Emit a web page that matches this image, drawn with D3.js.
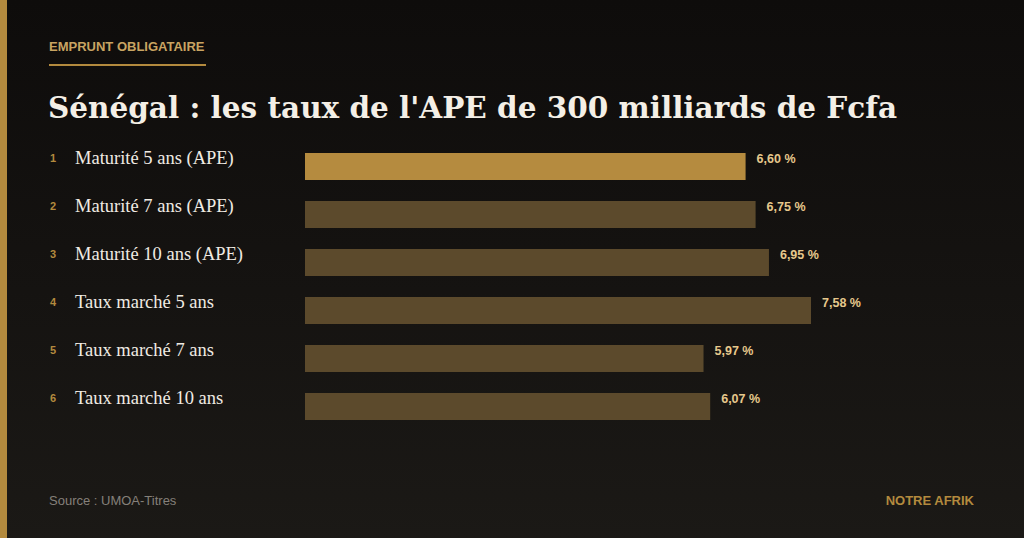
<!DOCTYPE html>
<html>
<head>
<meta charset="utf-8">
<script src="https://cdn.jsdelivr.net/npm/d3@7"></script>
<style>
  html, body { margin: 0; padding: 0; background: #121110; }
  svg { display: block; }
</style>
</head>
<body>
<div id="chart"></div>
<script>
// data
var categories = ["Maturité 5 ans (APE)", "Maturité 7 ans (APE)", "Maturité 10 ans (APE)",
                  "Taux marché 5 ans", "Taux marché 7 ans", "Taux marché 10 ans"];
var ranks = ["1", "2", "3", "4", "5", "6"];
var rates = [6.60, 6.75, 6.95, 7.58, 5.97, 6.07];
var rateLabels = ["6,60 %", "6,75 %", "6,95 %", "7,58 %", "5,97 %", "6,07 %"];

var svgWidth = 1024;
var svgHeight = 538;

var svg = d3.select("#chart")
  .append("svg")
    .attr("width", svgWidth)
    .attr("height", svgHeight);

// background gradient
var defs = svg.append("defs");
var grad = defs.append("linearGradient")
  .attr("id", "bg").attr("x1", 0).attr("y1", 0).attr("x2", 0).attr("y2", 1);
grad.append("stop").attr("offset", "0%").attr("stop-color", "#0e0c0b");
grad.append("stop").attr("offset", "100%").attr("stop-color", "#1b1916");

svg.append("rect")
  .attr("width", svgWidth).attr("height", svgHeight)
  .attr("fill", "url(#bg)");

// gold strip on the left
svg.append("rect")
  .attr("x", 0).attr("y", 0)
  .attr("width", 7).attr("height", svgHeight)
  .attr("fill", "#b38a3e");

// header
svg.append("text")
  .attr("x", 49).attr("y", 51)
  .attr("font-family", "Liberation Sans, Arial, sans-serif")
  .attr("font-size", "13px")
  .attr("font-weight", "bold")
  .attr("fill", "#c9a462")
  .text("EMPRUNT OBLIGATAIRE");

svg.append("rect")
  .attr("x", 49).attr("y", 64)
  .attr("width", 157).attr("height", 2)
  .attr("fill", "#b38a3e");

svg.append("text")
  .attr("x", 48).attr("y", 118)
  .attr("font-family", "DejaVu Serif, serif")
  .attr("font-size", "30px")
  .attr("font-weight", "bold")
  .attr("fill", "#f4efe6")
  .attr("textLength", 849)
  .attr("lengthAdjust", "spacingAndGlyphs")
  .text("Sénégal : les taux de l'APE de 300 milliards de Fcfa");

// chart area
var margin = {top: 153, left: 305};
var chartGroup = svg.append("g")
  .attr("transform", `translate(${margin.left}, ${margin.top})`);

var x = d3.scaleLinear()
  .domain([0, 7.58])
  .range([0, 506]);

var y = d3.scaleBand()
  .domain(d3.range(categories.length))
  .range([0, 267])
  .paddingInner(0.4375)
  .paddingOuter(0);

var rows = categories.map(function(c, i) {
  return {name: c, rank: ranks[i], value: rates[i], label: rateLabels[i], i: i};
});

chartGroup.selectAll("rect.bar")
  .data(rows)
  .enter()
  .append("rect")
    .attr("class", "bar")
    .attr("x", 0)
    .attr("y", d => y(d.i))
    .attr("width", d => x(d.value))
    .attr("height", y.bandwidth())
    .attr("fill", d => d.i === 0 ? "#b58b3f" : "#5c4a2c");

chartGroup.selectAll("text.val")
  .data(rows)
  .enter()
  .append("text")
    .attr("class", "val")
    .attr("x", d => x(d.value) + 11)
    .attr("y", d => y(d.i) + 10)
    .attr("font-family", "Liberation Sans, Arial, sans-serif")
    .attr("font-size", "12.5px")
    .attr("font-weight", "bold")
    .attr("fill", "#e6c88c")
    .text(d => d.label);

// row labels on the left
svg.selectAll("text.rank")
  .data(rows)
  .enter()
  .append("text")
    .attr("class", "rank")
    .attr("x", 50)
    .attr("y", d => margin.top + y(d.i) + 9)
    .attr("font-family", "Liberation Sans, Arial, sans-serif")
    .attr("font-size", "11px")
    .attr("font-weight", "bold")
    .attr("fill", "#b38a3e")
    .text(d => d.rank);

svg.selectAll("text.cat")
  .data(rows)
  .enter()
  .append("text")
    .attr("class", "cat")
    .attr("x", 75)
    .attr("y", d => margin.top + y(d.i) + 11)
    .attr("font-family", "Liberation Serif, Times New Roman, serif")
    .attr("font-size", "18.5px")
    .attr("fill", "#f0ebe3")
    .text(d => d.name);

// footer
svg.append("text")
  .attr("x", 49).attr("y", 505)
  .attr("font-family", "Liberation Sans, Arial, sans-serif")
  .attr("font-size", "13px")
  .attr("fill", "#85807a")
  .text("Source : UMOA-Titres");

svg.append("text")
  .attr("x", 974).attr("y", 505)
  .attr("text-anchor", "end")
  .attr("font-family", "Liberation Sans, Arial, sans-serif")
  .attr("font-size", "13px")
  .attr("font-weight", "bold")
  .attr("fill", "#b38a3e")
  .text("NOTRE AFRIK");
</script>
</body>
</html>
